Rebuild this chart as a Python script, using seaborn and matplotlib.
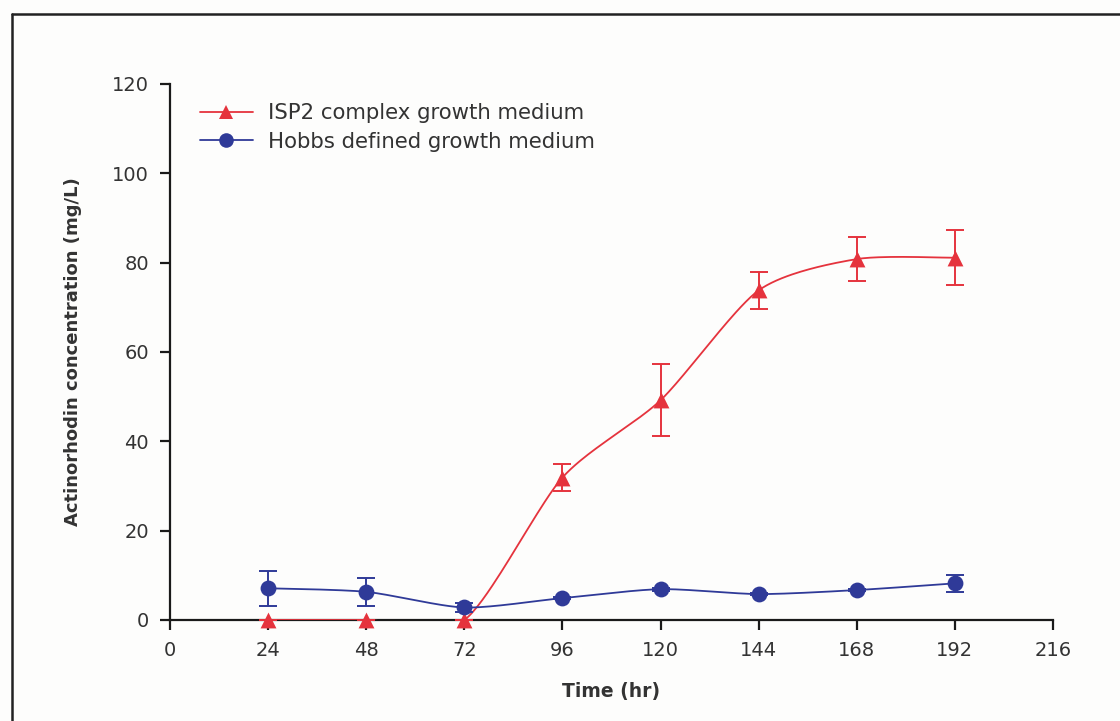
import numpy as np
import pandas as pd
import matplotlib
matplotlib.use("Agg")
import matplotlib.pyplot as plt
from matplotlib.lines import Line2D
import seaborn as sns

# Sampling times (hr)
time_hr = [24, 48, 72, 96, 120, 144, 168, 192]

# Actinorhodin concentration (mg/L), mean and error
isp2_mean = [0.0, 0.0, 0.0, 31.9, 49.2, 73.8, 80.8, 81.1]
isp2_err = [0.0, 0.0, 0.0, 3.0, 8.0, 4.2, 5.0, 6.2]
hobbs_mean = [7.1, 6.3, 2.8, 4.9, 6.9, 5.8, 6.7, 8.2]
hobbs_err = [3.9, 3.2, 1.0, 0.3, 0.3, 0.3, 0.3, 1.9]

series_names = ["ISP2 complex growth medium", "Hobbs defined growth medium"]
x_ticks = [0, 24, 48, 72, 96, 120, 144, 168, 192, 216]
y_ticks = [0, 20, 40, 60, 80, 100, 120]

RED = "#e5333d"
BLUE = "#2f3a98"
TEXT = "#333333"


def smooth_curve(x, y, tension=1 / 8, n=40):
    """Bezier smoothing through every point (tangent = neighbour chord * tension)."""
    x = np.asarray(x, float)
    y = np.asarray(y, float)
    pts = np.column_stack([x, y])
    out = []
    for i in range(len(pts) - 1):
        p0 = pts[max(i - 1, 0)]
        p1 = pts[i]
        p2 = pts[i + 1]
        p3 = pts[min(i + 2, len(pts) - 1)]
        c1 = p1 + (p2 - p0) * tension
        c2 = p2 - (p3 - p1) * tension
        t = np.linspace(0, 1, n)[:, None]
        seg = ((1 - t) ** 3) * p1 + 3 * ((1 - t) ** 2) * t * c1 + 3 * (1 - t) * t ** 2 * c2 + t ** 3 * p2
        out.append(seg if i == 0 else seg[1:])
    arr = np.vstack(out)
    return arr[:, 0], arr[:, 1]


sns.set_theme(style="white")
plt.rcParams["font.family"] = ["DejaVu Sans"]

fig = plt.figure(figsize=(11.2, 7.21), dpi=100)
fig.patch.set_facecolor("#fdfdfc")
ax = fig.add_axes([0.1518, 0.1401, 0.9402 - 0.1518, 0.8835 - 0.1401])
ax.set_facecolor("none")

series = [
    (isp2_mean, isp2_err, RED, "^"),
    (hobbs_mean, hobbs_err, BLUE, "o"),
]

handles = []
for name, (mean, err, color, marker) in zip(series_names, series):
    sx, sy = smooth_curve(time_hr, mean)
    curve = pd.DataFrame({"t": sx, "c": sy})
    sns.lineplot(data=curve, x="t", y="c", sort=False, estimator=None,
                 color=color, linewidth=1.3, ax=ax, zorder=3)
    ax.errorbar(time_hr, mean, yerr=err, fmt="none", ecolor=color,
                elinewidth=1.4, capsize=6.5, capthick=1.4, zorder=4)
    pts = pd.DataFrame({"t": time_hr, "c": mean})
    sns.scatterplot(data=pts, x="t", y="c", marker=marker, color=color,
                    s=130, linewidth=0, ax=ax, zorder=5, clip_on=False)
    handles.append(Line2D([], [], color=color, marker=marker, markersize=10.5,
                          linewidth=1.3, markeredgewidth=0))

ax.set_xlim(0, 216)
ax.set_ylim(0, 120)
ax.set_xticks(x_ticks)
ax.set_yticks(y_ticks)
ax.set_xticklabels([str(v) for v in x_ticks])
ax.set_yticklabels([str(v) for v in y_ticks])

for side in ("top", "right"):
    ax.spines[side].set_visible(False)
for side in ("left", "bottom"):
    ax.spines[side].set_color("#1a1a1a")
    ax.spines[side].set_linewidth(1.6)

ax.tick_params(axis="both", which="major", direction="out", length=7, width=1.6,
               color="#1a1a1a", labelsize=14, labelcolor=TEXT, pad=8,
               left=True, bottom=True)

ax.set_xlabel("Time (hr)", fontsize=13.5, fontweight="bold", color=TEXT, labelpad=16)
ax.set_ylabel("Actinorhodin concentration (mg/L)", fontsize=13, fontweight="bold",
              color=TEXT, labelpad=22)

ax.legend(handles, series_names, loc="upper left", bbox_to_anchor=(0.012, 1.0),
          frameon=False, fontsize=15.3, handlelength=2.5, handletextpad=0.7,
          labelspacing=0.4, labelcolor=TEXT)

# Outer border of the figure panel
fig.add_artist(Line2D([12 / 1120, 1.0], [1 - 14 / 721, 1 - 14 / 721],
                      transform=fig.transFigure, color="#222222", linewidth=1.8))
fig.add_artist(Line2D([12 / 1120, 12 / 1120], [0.0, 1 - 14 / 721],
                      transform=fig.transFigure, color="#222222", linewidth=1.8))

fig.savefig("out.png", dpi=100, facecolor=fig.get_facecolor())
